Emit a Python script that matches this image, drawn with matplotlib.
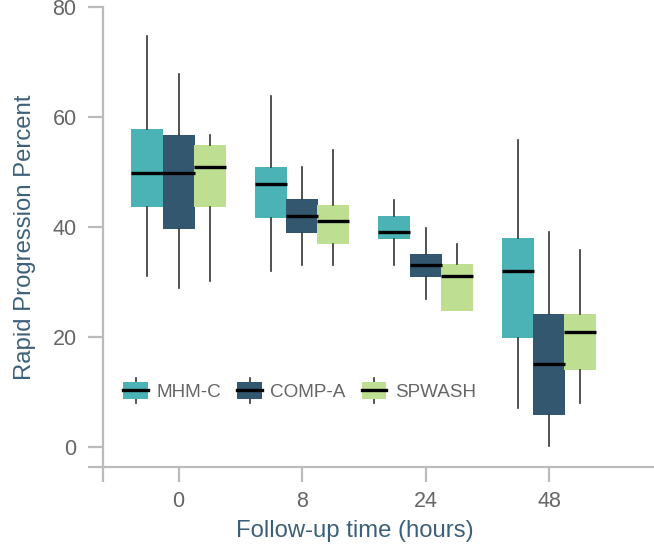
import matplotlib
matplotlib.use("Agg")
import matplotlib.pyplot as plt
from matplotlib.legend_handler import HandlerBase
from matplotlib.patches import Rectangle, Patch
from matplotlib.lines import Line2D
from matplotlib.ticker import FixedLocator

plt.rcParams['font.family'] = ['Liberation Sans', 'DejaVu Sans']

# follow-up time categories
times = ["0", "8", "24", "48"]
groups = ["MHM-C", "COMP-A", "SPWASH"]
colors = ["#4bb3b5", "#33576f", "#bedf92"]

# box stats per group, one value per time point
whislo = {
    "MHM-C": [31.2, 32.1, 33.2, 7.2],
    "COMP-A": [29.0, 33.2, 27.0, 0.2],
    "SPWASH": [30.3, 33.2, 24.7, 8.1],
}
q1 = {
    "MHM-C": [43.7, 41.6, 37.9, 19.8],
    "COMP-A": [39.7, 39.0, 30.9, 5.9],
    "SPWASH": [43.7, 37.0, 24.7, 14.0],
}
med = {
    "MHM-C": [49.9, 47.9, 39.1, 32.0],
    "COMP-A": [49.9, 42.0, 33.1, 15.2],
    "SPWASH": [51.0, 41.1, 31.2, 21.0],
}
q3 = {
    "MHM-C": [57.8, 50.9, 42.0, 38.0],
    "COMP-A": [56.8, 45.1, 35.1, 24.2],
    "SPWASH": [54.9, 44.0, 33.3, 24.2],
}
whishi = {
    "MHM-C": [74.7, 63.9, 45.0, 55.9],
    "COMP-A": [67.8, 50.9, 39.9, 39.1],
    "SPWASH": [56.8, 54.1, 37.0, 35.9],
}

label_col = "#3d6079"
tick_col = "#666666"
spine_col = "#bbbbbb"

fig = plt.figure(figsize=(6.54, 5.46), dpi=100)
ax = fig.add_axes([0.1575, 0.1447, 0.8425, 0.8421])

box_w = 0.259
offsets = [-0.2535, 0.0, 0.2535]
for g, name in enumerate(groups):
    stats = []
    for i in range(len(times)):
        stats.append(dict(whislo=whislo[name][i], q1=q1[name][i], med=med[name][i],
                          q3=q3[name][i], whishi=whishi[name][i], fliers=[]))
    pos = [i + offsets[g] for i in range(len(times))]
    ax.bxp(stats, positions=pos, widths=box_w, patch_artist=True, showcaps=False,
           showfliers=False, manage_ticks=False,
           boxprops=dict(facecolor=colors[g], edgecolor="none", linewidth=0),
           medianprops=dict(color="black", linewidth=2.4, solid_capstyle="butt"),
           whiskerprops=dict(color="#333333", linewidth=1.2), zorder=2)


class BoxHandler(HandlerBase):
    def __init__(self, color):
        super().__init__()
        self.color = color

    def create_artists(self, legend, orig_handle, xdescent, ydescent, width, height,
                       fontsize, trans):
        h = height * 1.2
        y0 = -ydescent + (height - h) / 2
        rect = Rectangle((-xdescent, y0), width, h, facecolor=self.color,
                         edgecolor="none", transform=trans)
        xc = -xdescent + width / 2
        vline = Line2D([xc, xc], [y0 - 0.22 * h, y0 + 1.22 * h], color="#333333",
                       linewidth=1.2, transform=trans)
        hline = Line2D([-xdescent, -xdescent + width], [y0 + h / 2, y0 + h / 2],
                       color="black", linewidth=2.4, transform=trans)
        return [vline, rect, hline]


handles = [Patch(facecolor=c) for c in colors]
ax.legend(handles, groups, handler_map={h: BoxHandler(c) for h, c in zip(handles, colors)},
          ncol=3, frameon=False, loc="center left", bbox_to_anchor=(0.037, 0.163),
          fontsize=13.6, labelcolor=tick_col, handlelength=1.3, handleheight=0.78,
          handletextpad=0.45, columnspacing=0.85, borderpad=0, borderaxespad=0)

ax.set_xlim(-0.613, 3.85)
ax.set_ylim(-3.6, 80)
ax.set_xticks(range(len(times)))
ax.set_xticklabels(times)
ax.set_yticks([0, 20, 40, 60, 80])
ax.xaxis.set_minor_locator(FixedLocator([-0.613]))
ax.yaxis.set_minor_locator(FixedLocator([-3.6]))

for s in ["top", "right"]:
    ax.spines[s].set_visible(False)
for s in ["left", "bottom"]:
    ax.spines[s].set_color(spine_col)
    ax.spines[s].set_linewidth(1.6)

ax.tick_params(which="both", length=11, width=1.6, color=spine_col, labelcolor=tick_col,
               labelsize=15.5)
ax.tick_params(axis="y", pad=8)
ax.tick_params(axis="x", pad=6)

ax.set_ylabel("Rapid Progression Percent", fontsize=17.2, color=label_col, labelpad=12)
ax.set_xlabel("Follow-up time (hours)", fontsize=17.2, color=label_col)
ax.xaxis.set_label_coords(0.457, -0.115)

fig.savefig("out.png", dpi=100)
